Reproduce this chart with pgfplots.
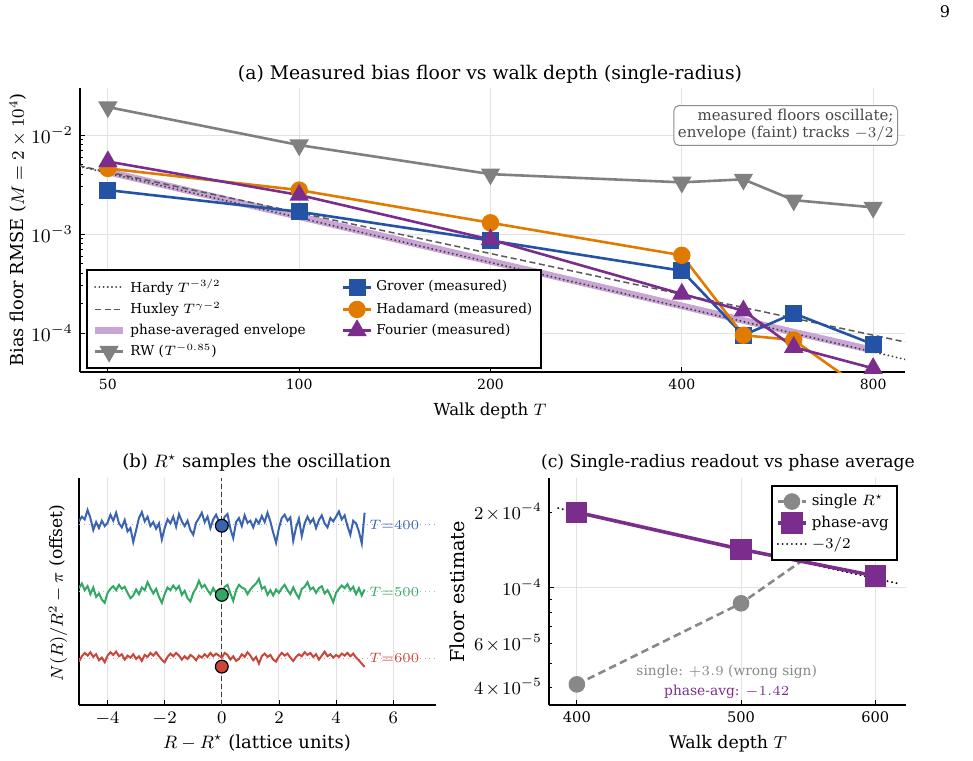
\documentclass[border=0pt]{standalone}
\usepackage{fix-cm}
\usepackage{fontspec}
\setmainfont{DejaVu Serif}
\usepackage{pgfplots}
\usepackage{pgfplotstable}
\pgfplotsset{compat=1.18}

\definecolor{grover}{RGB}{36,83,166}
\definecolor{hadamard}{RGB}{224,123,0}
\definecolor{fourier}{RGB}{123,45,142}
\definecolor{rwgray}{RGB}{128,128,128}
\definecolor{envel}{RGB}{200,165,212}
\definecolor{cblue}{RGB}{59,100,174}
\definecolor{cgreen}{RGB}{51,168,100}
\definecolor{cred}{RGB}{200,71,58}
\definecolor{single}{RGB}{136,136,136}
\definecolor{gridc}{RGB}{226,226,226}

% measured bias floors per walk depth
\pgfplotstableread{
T    rw       grover    hadamard  fourier   env
50   0.0192   0.00278   0.00460   0.00540   0.00425
100  0.00792  0.00168   0.00278   0.00248   0.00150
200  0.00403  0.00086   0.00130   0.00088   0.00053
400  0.00333  0.000426  0.00061   0.000248  0.000188
500  0.00357  0.000095  0.000095  0.000168  0.000134
600  0.00220  0.000158  0.000085  0.000072  0.000102
800  0.00186  0.000077  0.000023  0.000044  0.000067
}\floors

% single-radius readout against phase average
\pgfplotstableread{
T    single    phase
400  4.11e-5   2.00e-4
500  8.66e-5   1.423e-4
600  2.05e-4   1.114e-4
}\readout

% N(R)/R^2 - pi around R*, for T = 400 (b), 500 (g), 600 (r)
\pgfplotstableread{
x     b      g      r
-5.0  0.05   0.05  -0.05
-4.9  0.12   0.12   0.03
-4.8  0.08   0.02   0.08
-4.7  0.22   0.08   0.04
-4.6  0.10  -0.04   0.09
-4.5 -0.08   0.06   0.02
-4.4  0.04  -0.08   0.06
-4.3 -0.05  -0.03  -0.03
-4.2  0.06  -0.12   0.01
-4.1 -0.02  -0.17  -0.06
-4.0  0.03  -0.02   0.04
-3.9  0.15   0.04   0.09
-3.8  0.06   0.08   0.05
-3.7  0.18   0.02   0.10
-3.6  0.02   0.10   0.03
-3.5 -0.04   0.04   0.06
-3.4  0.07   0.07  -0.02
-3.3 -0.10  -0.02   0.04
-3.2 -0.05  -0.10   0.01
-3.1 -0.26  -0.06   0.06
-3.0 -0.08   0.03  -0.01
-2.9  0.10  -0.04   0.03
-2.8  0.19   0.06  -0.04
-2.7  0.05   0.02   0.05
-2.6  0.12   0.14   0.02
-2.5 -0.02   0.05   0.08
-2.4  0.04  -0.03   0.04
-2.3 -0.06   0.04   0.09
-2.2  0.02  -0.08   0.03
-2.1 -0.22  -0.17  -0.02
-2.0 -0.05  -0.04  -0.06
-1.9  0.08   0.06   0.02
-1.8  0.02   0.02   0.07
-1.7  0.12   0.09   0.03
-1.6 -0.03   0.03   0.08
-1.5  0.16   0.08   0.04
-1.4  0.05  -0.05  -0.02
-1.3 -0.02   0.01   0.03
-1.2  0.06  -0.10  -0.01
-1.1 -0.08  -0.15   0.05
-1.0 -0.15  -0.02   0.02
-0.9  0.03   0.05  -0.03
-0.8  0.10   0.16   0.04
-0.7  0.18   0.06   0.01
-0.6  0.04   0.10   0.06
-0.5  0.12   0.02   0.02
-0.4 -0.05  -0.04   0.08
-0.3  0.08   0.05   0.03
-0.2  0.15  -0.02   0.07
-0.1  0.05  -0.08   0.04
 0.0 -0.02  -0.05   0.01
 0.1  0.12   0.07   0.08
 0.2  0.16   0.10   0.05
 0.3 -0.06  -0.03  -0.02
 0.4 -0.20  -0.14   0.03
 0.5  0.04   0.02  -0.04
 0.6  0.10   0.10  -0.01
 0.7 -0.02   0.06   0.06
 0.8  0.14   0.04   0.02
 0.9  0.03  -0.04   0.09
 1.0  0.06   0.03   0.04
 1.1 -0.04   0.08  -0.03
 1.2  0.08   0.12   0.02
 1.3  0.02   0.19  -0.08
 1.4  0.13   0.04   0.03
 1.5  0.04   0.07   0.07
 1.6  0.18  -0.05   0.02
 1.7  0.05   0.02   0.05
 1.8 -0.12  -0.06  -0.02
 1.9 -0.27   0.03  -0.05
 2.0 -0.05  -0.02   0.03
 2.1  0.10   0.05   0.08
 2.2  0.15   0.10   0.04
 2.3  0.06   0.02   0.07
 2.4  0.11  -0.04   0.01
 2.5 -0.24   0.06  -0.04
 2.6 -0.04  -0.03   0.02
 2.7  0.09  -0.10   0.06
 2.8 -0.17   0.04   0.03
 2.9  0.02   0.07   0.09
 3.0  0.12   0.14   0.05
 3.1  0.03   0.03   0.08
 3.2  0.09   0.06   0.02
 3.3 -0.05  -0.02   0.06
 3.4  0.07   0.05  -0.02
 3.5  0.14   0.08   0.04
 3.6  0.02  -0.03   0.10
 3.7 -0.04   0.02   0.03
 3.8  0.10  -0.06   0.06
 3.9  0.05  -0.16   0.01
 4.0  0.12  -0.02   0.05
 4.1  0.20   0.04   0.02
 4.2  0.08   0.09   0.07
 4.3  0.14   0.05   0.04
 4.4 -0.02   0.11   0.08
 4.5 -0.15   0.02   0.03
 4.6  0.06   0.07   0.07
 4.7  0.02  -0.04   0.01
 4.8 -0.10   0.05  -0.03
 4.9 -0.28  -0.06  -0.08
 5.0  0.18   0.03  -0.13
}\osc

\pgfplotsset{
  panel/.style={
    scale only axis, anchor=south west,
    axis x line*=bottom, axis y line*=left,
    axis line style={-, line width=0.6pt, black},
    major tick length=2.6pt, minor tick length=1.5pt,
    every tick/.style={black, line width=0.4pt},
    major grid style={gridc, line width=0.45pt},
    clip=true,
    legend image code/.code={%
      \draw[mark repeat=2,mark phase=2,##1] plot coordinates {(0pt,0pt) (7pt,0pt) (14pt,0pt)};},
  },
  hardy/.style={black!75, line width=1.05pt, line cap=round, dash pattern=on 0.01pt off 2.1pt},
  huxley/.style={black!65, line width=0.75pt, dash pattern=on 3pt off 1.8pt},
  envstyle/.style={envel, line width=3.4pt},
  rwstyle/.style={rwgray, line width=1.3pt, mark=triangle*, mark size=4.3pt, mark options={rotate=180, fill=rwgray, draw=rwgray}},
  grovstyle/.style={grover, line width=1.3pt, mark=square*, mark size=3.6pt, mark options={fill=grover, draw=grover}},
  hadstyle/.style={hadamard, line width=1.3pt, mark=*, mark size=3.7pt, mark options={fill=hadamard, draw=hadamard}},
  fourstyle/.style={fourier, line width=1.3pt, mark=triangle*, mark size=4.3pt, mark options={fill=fourier, draw=fourier}},
  singstyle/.style={single, line width=1.3pt, dash pattern=on 3.8pt off 2.2pt, mark=*, mark size=3.5pt, mark options={solid, fill=single, draw=single}},
  phstyle/.style={fourier, line width=1.8pt, mark=square*, mark size=4.4pt, mark options={fill=fourier, draw=fourier}},
  slopestyle/.style={black, line width=1.05pt, line cap=round, dash pattern=on 0.01pt off 2.3pt},
}

\begin{document}
\begin{tikzpicture}
\path[use as bounding box] (0,0) rectangle (486.5pt,380pt);

% ---------------- (a) bias floor vs walk depth ----------------
\begin{axis}[panel, at={(40pt,194pt)}, width=412.5pt, height=142pt,
  xmode=log, ymode=log, xmin=45.2, xmax=898, ymin=4.04e-5, ymax=0.0299,
  xtick={50,100,200,400,800}, xticklabels={50,100,200,400,800}, minor xtick={},
  ytick={1e-4,1e-3,1e-2},
  grid=major,
  xticklabel style={font=\fontsize{7}{8}\selectfont},
  yticklabel style={font=\fontsize{9.6}{10}\selectfont},
  legend columns=2, legend cell align=left,
  legend style={at={(0.007,0.011)}, anchor=south west, draw=black, line width=0.9pt,
    font=\fontsize{6.8}{8}\selectfont, row sep=-0.6pt, inner sep=2.5pt,
    /tikz/every even column/.append style={column sep=16pt}},
]
\addplot[envstyle, forget plot] table[x=T, y=env] {\floors};
\addplot[hardy, forget plot] coordinates {(45,4.833e-3) (900,5.404e-5)};
\addplot[huxley, forget plot] coordinates {(45,4.9e-3) (900,8.1e-5)};
\addplot[rwstyle, forget plot] table[x=T, y=rw] {\floors};
\addplot[grovstyle, forget plot] table[x=T, y=grover] {\floors};
\addplot[hadstyle, forget plot] table[x=T, y=hadamard] {\floors};
\addplot[fourstyle, forget plot] table[x=T, y=fourier] {\floors};

\addlegendimage{hardy}\addlegendentry{Hardy $T^{-3/2}$}
\addlegendimage{grovstyle}\addlegendentry{Grover (measured)}
\addlegendimage{huxley}\addlegendentry{Huxley $T^{\gamma-2}$}
\addlegendimage{hadstyle}\addlegendentry{Hadamard (measured)}
\addlegendimage{envstyle}\addlegendentry{phase-averaged envelope}
\addlegendimage{fourstyle}\addlegendentry{Fourier (measured)}
\addlegendimage{rwstyle}\addlegendentry{RW ($T^{-0.85}$)}

\node[anchor=north east, draw=black!45, rounded corners=2.5pt, fill=white, align=right,
  text=black!72, font=\fontsize{7.5}{8.4}\selectfont, inner sep=2pt, line width=0.5pt]
  at (rel axis cs:0.9915,0.94) {measured floors oscillate;\\envelope (faint) tracks $-3/2$};
\end{axis}

% ---------------- (b) oscillation around R* ----------------
\begin{axis}[panel, at={(39.5pt,27.5pt)}, width=178.5pt, height=113.5pt,
  xmin=-5, xmax=7.5, ymin=-0.7, ymax=2.7,
  xtick={-4,-2,0,2,4,6}, ytick=\empty,
  xmajorgrids=true,
  xticklabel style={font=\fontsize{8.8}{9}\selectfont},
]
\addplot[cblue!55, line width=0.4pt, dotted] coordinates {(-5,2) (7.5,2)};
\addplot[cgreen!55, line width=0.4pt, dotted] coordinates {(-5,1) (7.5,1)};
\addplot[cred!55, line width=0.4pt, dotted] coordinates {(-5,0) (7.5,0)};
\addplot[black!75, line width=0.6pt, dash pattern=on 2.5pt off 1.5pt] coordinates {(0,-0.7) (0,2.7)};
\addplot[cblue, line width=1pt] table[x=x, y expr=\thisrow{b}+2] {\osc};
\addplot[cgreen, line width=1pt] table[x=x, y expr=\thisrow{g}+1] {\osc};
\addplot[cred, line width=1pt] table[x=x, y=r] {\osc};
\addplot[only marks, mark=*, mark size=3.2pt, mark options={fill=cblue, draw=black, line width=0.6pt}] coordinates {(0,1.985)};
\addplot[only marks, mark=*, mark size=3.2pt, mark options={fill=cgreen, draw=black, line width=0.6pt}] coordinates {(0,0.95)};
\addplot[only marks, mark=*, mark size=3.2pt, mark options={fill=cred, draw=black, line width=0.6pt}] coordinates {(0,-0.125)};
\node[anchor=west, text=cblue, font=\fontsize{6.8}{7}\selectfont, inner sep=0pt] at (axis cs:5.15,2) {$T{=}400$};
\node[anchor=west, text=cgreen, font=\fontsize{6.8}{7}\selectfont, inner sep=0pt] at (axis cs:5.15,1) {$T{=}500$};
\node[anchor=west, text=cred, font=\fontsize{6.8}{7}\selectfont, inner sep=0pt] at (axis cs:5.15,0) {$T{=}600$};
\end{axis}

% ---------------- (c) single radius vs phase average ----------------
\begin{axis}[panel, at={(274.5pt,27.5pt)}, width=178.35pt, height=113.5pt,
  xmode=log, ymode=log, xmin=385.2, xmax=625.5, ymin=3.4e-5, ymax=2.74e-4,
  xtick={400,500,600}, xticklabels={400,500,600}, minor xtick={},
  ytick={1e-4}, yticklabels={$10^{-4}$},
  minor ytick={4e-5,5e-5,6e-5,7e-5,8e-5,9e-5,2e-4},
  extra y ticks={4e-5,6e-5,2e-4},
  extra y tick labels={$4\mkern2mu{\times}\mkern2mu10^{-5}$,$6\mkern2mu{\times}\mkern2mu10^{-5}$,$2\mkern2mu{\times}\mkern2mu10^{-4}$},
  extra y tick style={grid=none, major tick length=1.5pt},
  grid=major,
  xticklabel style={font=\fontsize{7.3}{8}\selectfont},
  yticklabel style={font=\fontsize{9.1}{10}\selectfont},
  legend cell align=left,
  legend style={at={(0.978,0.969)}, anchor=north east, draw=black, line width=0.9pt,
    font=\fontsize{7.5}{9}\selectfont, row sep=-0.5pt, inner sep=2.2pt},
]
\addplot[singstyle, forget plot] table[x=T, y=single] {\readout};
\addplot[slopestyle, forget plot] coordinates {(390,2.077e-4) (620,1.036e-4)};
\addplot[phstyle, forget plot] table[x=T, y=phase] {\readout};
\addlegendimage{singstyle}\addlegendentry{single $R^\star$}
\addlegendimage{phstyle}\addlegendentry{phase-avg}
\addlegendimage{slopestyle}\addlegendentry{$-3/2$}
\node[text=single, font=\fontsize{6.9}{7}\selectfont] at (rel axis cs:0.498,0.147) {single: $+3.9$ (wrong sign)};
\node[text=fourier, font=\fontsize{6.9}{7}\selectfont] at (rel axis cs:0.498,0.0586) {phase-avg: $-1.42$};
\end{axis}

% titles and axis labels
\node[anchor=base, font=\fontsize{9.4}{11}\selectfont] at (245pt,340pt) {(a) Measured bias floor vs walk depth (single-radius)};
\node[anchor=base, font=\fontsize{8.3}{10}\selectfont] at (245pt,172pt) {Walk depth $T$};
\node[rotate=90, font=\fontsize{8.9}{10}\selectfont] at (9pt,265pt) {Bias floor RMSE ($M=2\times10^4$)};

\node[anchor=base, font=\fontsize{9}{10}\selectfont] at (128.3pt,146pt) {(b) $R^\star$ samples the oscillation};
\node[anchor=base, font=\fontsize{9}{10}\selectfont] at (128.5pt,6pt) {$R-R^\star$ (lattice units)};
\node[rotate=90, font=\fontsize{8.6}{10}\selectfont] at (29pt,83.5pt) {$N(R)/R^2-\pi$ (offset)};

\node[anchor=base, font=\fontsize{8.6}{10}\selectfont] at (364pt,146pt) {(c) Single-radius readout vs phase average};
\node[anchor=base, font=\fontsize{8.7}{10}\selectfont] at (364pt,6pt) {Walk depth $T$};
\node[rotate=90, font=\fontsize{9.6}{11}\selectfont] at (228.5pt,84pt) {Floor estimate};

\node[font=\fontsize{8}{9}\selectfont] at (472.5pt,374pt) {9};
\end{tikzpicture}
\end{document}
